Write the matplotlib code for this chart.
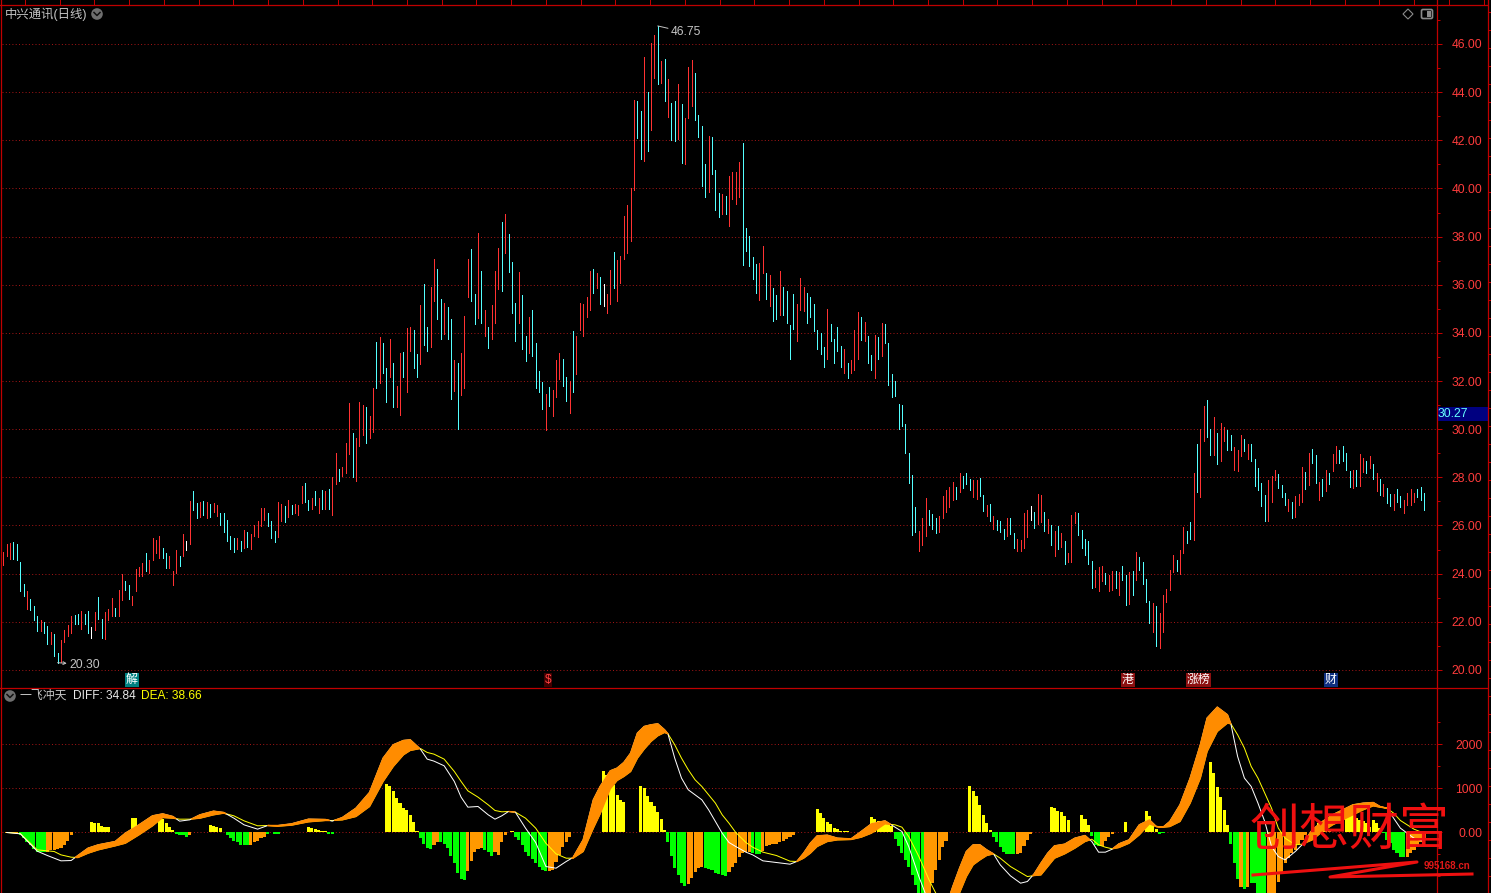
import numpy as np
import matplotlib
matplotlib.use('Agg')
import matplotlib.pyplot as plt
from matplotlib.patches import Circle, FancyBboxPatch, Polygon

plt.rcParams['font.family'] = ['Liberation Sans', 'Noto Sans CJK SC', 'DejaVu Sans']

# daily bars: one high, one low, one colour (r up, c down, w flat)
highs = [
    24.89,25.25,25.28,25.33,25.22,24.47,23.58,23.26,22.93,22.67,
    22.26,22.06,22.01,21.81,21.56,21.51,20.72,21.25,21.64,21.85,
    22.22,22.29,22.33,22.43,22.33,22.43,21.78,22.39,23.01,22.10,
    22.39,22.51,22.97,22.56,23.31,24.00,23.68,23.51,23.06,24.21,
    24.26,24.43,24.85,24.56,25.47,25.39,25.56,25.06,24.85,24.72,
    24.10,24.97,24.72,25.64,25.35,27.01,27.43,26.93,26.97,27.01,
    26.97,26.89,26.93,26.85,26.51,26.51,26.22,25.56,25.47,25.47,
    25.35,25.81,25.72,25.64,26.01,26.18,26.72,26.72,26.51,26.18,
    25.76,26.97,26.89,26.81,27.06,26.85,26.89,26.85,27.64,27.76,
    27.06,27.14,27.43,27.14,27.47,27.43,27.51,28.03,29.00,28.35,
    28.43,29.43,31.10,29.83,29.63,31.14,31.01,30.93,30.56,31.72,
    33.64,33.81,33.56,32.56,33.76,32.76,31.81,33.18,33.22,34.22,
    34.26,34.14,33.14,35.14,36.01,34.26,35.89,37.06,36.64,35.39,
    35.26,35.06,34.56,32.89,32.76,33.18,34.72,37.06,37.47,35.60,
    38.14,36.56,34.93,34.26,35.14,36.56,37.51,38.60,38.93,38.10,
    36.93,35.26,36.51,35.56,33.85,34.64,34.93,33.60,32.43,31.97,
    31.47,31.76,31.64,32.89,33.18,32.93,32.18,32.01,34.06,33.85,
    35.26,35.22,35.51,36.56,36.64,36.47,36.31,36.01,35.60,36.60,
    37.35,37.01,37.18,38.85,39.31,40.01,43.68,43.64,43.22,45.47,
    44.01,46.03,46.39,46.75,45.31,45.39,44.56,43.56,43.64,44.35,
    43.51,42.93,45.06,45.35,44.81,43.06,42.60,41.01,42.18,42.14,
    40.76,39.81,39.76,39.68,40.51,40.68,40.68,41.10,41.89,38.35,
    38.01,37.14,36.85,36.89,37.60,36.47,36.39,35.85,35.56,36.56,
    35.89,35.76,34.31,35.60,35.18,36.26,35.89,35.64,35.51,35.22,
    34.10,34.01,33.43,35.01,34.35,33.76,34.26,33.47,33.31,32.76,
    32.89,34.14,34.85,34.68,34.47,33.89,33.10,33.93,33.81,34.43,
    34.35,33.56,32.31,32.01,31.06,31.01,30.22,29.01,28.10,26.76,
    25.76,26.31,27.14,26.64,26.47,26.31,26.39,27.22,27.47,27.60,
    27.81,27.60,28.18,28.06,28.18,27.93,27.89,27.89,27.97,27.26,
    26.85,26.89,26.39,26.22,26.18,25.85,26.31,26.31,25.68,25.43,
    25.39,26.51,26.64,26.81,26.56,27.31,27.26,26.56,26.26,26.01,
    25.76,25.97,25.68,25.35,24.85,26.43,26.56,26.51,25.81,25.43,
    25.35,24.51,24.14,24.26,24.31,24.01,23.93,24.10,24.10,24.06,
    24.31,23.93,24.06,24.10,24.89,24.68,24.47,23.76,22.85,22.76,
    22.64,22.35,23.10,23.35,24.14,24.76,24.56,24.97,25.93,25.76,
    26.14,28.18,29.39,30.00,30.97,31.22,30.01,30.51,29.85,30.26,
    30.10,29.97,29.76,29.26,29.14,29.76,29.60,29.39,29.39,28.76,
    28.39,27.76,27.26,27.89,28.06,28.31,28.14,27.68,27.35,27.10,
    26.97,27.22,27.31,28.43,28.22,29.01,29.18,28.93,27.81,27.93,
    28.31,28.18,28.97,29.31,29.14,29.31,29.01,28.26,28.31,28.31,
    28.97,28.81,28.68,28.89,28.56,28.18,27.93,27.72,27.56,27.31,
    27.31,27.51,27.22,27.06,27.35,27.51,27.35,27.51,27.60,27.35]
lows = [
    24.35,24.72,24.60,24.60,24.56,23.26,23.07,22.51,22.47,22.06,
    21.60,21.60,21.53,21.08,21.08,20.57,20.30,20.32,21.18,21.39,
    21.53,21.92,21.89,21.68,21.92,21.53,21.32,21.64,22.10,21.32,
    21.28,22.06,22.22,22.22,22.22,22.89,23.31,22.93,22.68,23.26,
    23.89,23.89,24.10,24.01,24.56,24.85,24.64,24.64,24.22,24.22,
    23.51,24.01,24.31,24.72,24.97,25.22,26.64,26.31,26.35,26.43,
    26.31,26.35,26.56,26.39,26.01,25.72,25.35,25.01,24.89,25.01,
    24.93,25.06,25.10,25.01,25.56,25.51,25.97,26.22,25.97,25.47,
    25.31,25.51,26.18,26.14,26.35,26.47,26.51,26.43,26.93,26.97,
    26.64,26.68,26.85,26.51,26.68,26.68,26.68,26.45,27.72,27.85,
    28.06,28.18,28.97,28.03,27.85,29.31,29.76,29.44,29.64,29.89,
    31.72,31.93,32.35,31.14,32.18,30.93,30.93,30.60,32.18,31.56,
    33.26,32.56,32.18,32.72,33.51,33.26,33.43,35.31,34.56,33.76,
    33.97,33.76,31.26,31.60,30.00,31.43,31.72,35.47,35.31,34.35,
    34.60,34.39,33.85,33.39,33.76,34.43,35.81,35.76,37.31,36.51,
    34.81,33.68,34.39,33.35,32.85,33.18,33.06,31.72,31.56,30.85,
    29.97,30.97,30.56,31.35,32.10,31.81,31.18,30.68,31.56,32.31,
    34.10,33.89,34.64,34.93,35.64,35.85,35.22,35.10,34.81,35.22,
    35.85,35.31,36.06,37.06,37.31,37.81,39.93,42.10,41.22,41.14,
    41.56,42.43,44.60,44.35,44.39,43.64,42.97,42.01,41.97,42.06,
    41.06,41.01,42.93,43.43,42.85,42.14,40.10,39.64,39.85,40.60,
    39.10,38.81,38.93,38.93,38.43,39.56,39.35,39.64,36.81,37.39,
    36.76,36.22,35.64,35.35,36.47,35.39,35.10,34.51,34.56,34.76,
    34.76,34.39,32.93,34.18,33.68,34.97,34.89,34.43,34.68,34.06,
    33.31,33.14,32.60,32.93,33.68,32.76,33.26,32.60,32.35,32.14,
    32.35,32.47,32.93,33.72,33.68,32.76,32.47,32.14,32.93,33.06,
    33.60,31.85,31.35,31.39,30.01,30.14,29.01,27.76,25.60,25.72,
    24.93,25.18,25.56,26.01,25.85,25.68,25.72,26.31,26.56,26.76,
    27.06,27.10,27.39,27.56,27.72,27.47,27.18,27.10,27.24,26.60,
    26.39,26.18,25.85,25.81,25.72,25.43,25.56,25.64,25.06,24.93,
    24.93,25.06,25.51,26.22,25.89,26.06,26.14,25.76,25.68,25.18,
    24.72,25.01,25.10,24.39,24.47,24.47,26.10,25.60,25.06,24.76,
    24.39,23.39,23.43,23.26,23.68,23.56,23.26,23.31,23.39,23.10,
    23.72,22.68,22.72,23.10,23.72,24.14,23.56,22.81,21.93,21.56,
    21.01,20.89,21.56,22.81,23.31,24.06,24.10,23.99,24.85,25.26,
    25.43,25.39,27.39,27.18,29.51,29.68,28.93,28.93,28.56,28.68,
    29.51,29.14,29.14,28.31,28.26,28.89,29.10,28.76,28.68,27.64,
    27.47,26.81,26.18,26.18,26.97,27.89,27.56,27.18,26.85,26.60,
    26.31,26.35,26.85,26.97,27.51,27.68,28.60,27.76,27.06,27.22,
    27.43,27.72,28.26,28.60,28.60,28.68,28.31,27.60,27.56,27.64,
    27.64,28.22,28.18,28.39,27.93,27.43,27.26,27.22,26.93,26.81,
    26.64,26.97,26.76,26.51,26.85,26.85,26.97,27.18,27.06,26.64]
bar_kinds = (
    "rrrccccrcc" "crccrccrrr" "rccrccwrcc" "rrrcrrccrr" "rrcrrrrccr" "rrcrwrccrc"
    "rcrrcccccr" "crcrrrrrcc" "crrcrcrrrc" "crcrcrcrrc" "rrrcrrrcrr" "crccrcrrcr"
    "rccrccrrcc" "rccrcrrrcc" "rcrcrrrcrc" "ccrccrcccc" "rcrrrccrcr" "rrrrcrcwrr"
    "crrrrrrccr" "crrcrcrccr" "crrrccccrc" "ccrcrrrrcc" "cccrrcrccr" "ccccrrrccc"
    "cccrccccrc" "rrrcrccrcr" "cccccccccc" "rrrcccrrrr" "rcrcccrrcc" "rcrcccrccr"
    "rrrwcrrcrc" "rcrcrrrccc" "ccrrrcrrcr" "ccrcrccccr" "crrrrrcrrc" "crcrrccrcr"
    "rccrrrcrcc" "cccrrrcccr" "crrrcrccrc" "rcrrccccrc" "rrcrcrcrcc" "rccrrrrccc")

# indicator lines, read at these bars
macd_bars = [1,5,10,13,15,17,20,22,25,28,33,36,40,44,47,50,52,55,58,62,65,68,71,75,78,81,85,90,95,97,
    100,104,108,112,115,118,120,123,125,127,130,133,135,137,140,143,145,147,149,151,154,157,160,163,166,168,
    171,174,176,179,181,183,185,187,189,191,193,195,196,198,200,202,204,206,208,210,212,214,216,219,221,224,
    228,232,234,236,238,240,243,246,250,253,256,260,263,265,267,270,273,275,278,280,282,284,286,288,290,292,
    294,297,300,302,304,306,308,310,313,316,319,321,323,325,327,329,332,335,338,340,342,344,347,350,353,355,
    358,361,362,364,366,368,370,372,374,376,378,381,383,386,389,392,395,398,401,404,406,408,410,412,414,416,419]
diff_vals = [0,-30,-424,-523,-584,-644,-637,-523,-356,-280,-205,-15,174,379,424,364,258,288,402,485,455,326,174,76,159,159,197,303,296,258,
    341,553,910,1690,1994,2092,2107,1895,1668,1622,1516,1160,803,576,591,402,303,379,478,462,99,-227,-773,-811,-659,-569,
    -167,743,1046,1402,1463,1592,1804,2259,2410,2448,2471,2335,2244,1690,1236,970,857,743,515,250,-15,-227,-318,-447,-508,-644,
    -682,-720,-659,-470,-243,-76,-61,-129,-144,23,197,265,121,23,-318,-1001,-1607,-1759,-1683,-1228,-811,-432,-280,-280,-394,-485,
    -735,-985,-1152,-1114,-940,-697,-470,-303,-265,-129,-68,-205,-447,-447,-379,-258,-167,174,288,136,121,250,629,1236,1994,2600,
    2850,2676,2471,1728,1236,1046,667,250,-318,-546,-622,-432,-280,61,250,402,515,629,667,682,591,553,326,99,-15,-129,-205]
dea_vals = [0,-23,-394,-417,-432,-508,-561,-569,-470,-394,-303,-243,-53,152,341,326,303,303,326,402,440,379,265,152,159,144,167,243,273,273,
    288,364,591,1160,1501,1766,1865,1910,1819,1781,1668,1387,1160,947,803,629,500,470,478,462,326,99,-243,-485,-584,-584,
    -432,99,424,993,1182,1273,1387,1690,1895,2069,2198,2274,2244,1994,1690,1425,1198,1046,857,667,402,212,0,-227,-334,-447,
    -523,-652,-659,-584,-470,-318,-205,-167,-159,-106,-15,197,174,121,-91,-546,-1076,-1380,-1607,-1531,-1372,-1001,-735,-622,-523,-485,
    -584,-773,-910,-1001,-978,-963,-773,-584,-485,-356,-205,-152,-280,-334,-371,-341,-243,-53,197,136,121,136,250,667,1236,1842,
    2297,2486,2471,2221,1918,1501,1236,894,553,99,-129,-280,-265,-167,23,174,288,402,515,606,576,553,440,273,174,76,-15]

# histogram runs: first bar, then the value of each bar from there on
hist_runs = [
    (1, [-15,-15,-15,-15]),
    (5, [-61,-129,-220,-280,-371,-432,-432,-440,-440,-409,-409,-371,-341,-280,-190,-68]),
    (26, [243,212,205,152,136,136]),
    (38, [334,334]),
    (46, [409,303,212,121,61]),
    (51, [-30,-61,-68,-91,-61]),
    (61, [174,159,129,106]),
    (66, [-53,-129,-182,-227,-280,-280,-280,-280,-220,-182,-129,-91,-30]),
    (80, [-30,-30]),
    (90, [129,106,83,61,30,23,-23,-23]),
    (113, [1107,1061,932,781,667,568,500,394,235,38]),
    (123, [-121,-258,-356,-371,-280,-220,-227,-258,-356,-523,-697,-925,-1054,-1069,-872,-659,-447,-379,-356,-394,-447,-523,-447,-508,-205,-61]),
    (150, [38]),
    (151, [-91,-167,-280,-440,-523,-599,-697,-773,-849,-872,-872,-857,-667,-508,-334,-205,-99]),
    (177, [1387,1296,1198,1084,856,743,697]),
    (188, [1061,1001,834,682,599,470,311,61]),
    (196, [-227,-523,-796,-970,-1137,-1205,-1167,-1023,-887,-796,-773,-796,-826,-849,-910,-940,-963,-978,-887,-773,-682,-546,-470,-447,-432,-470,-485,-485,-417,-318,-280,-258,-258,-227,-182,-152,-91,-53]),
    (240, [538,447,334,243,190,99,76,30,23,23,15,15]),
    (256, [356,311,258,243,212,212,152]),
    (263, [-144,-296,-455,-622,-773,-963,-1182,-1607,-1607,-1607,-1455,-1137,-849,-622,-334,-182]),
    (285, [1061,947,819,629,402,212,61]),
    (292, [-91,-205,-334,-432,-485,-485,-485,-485,-470,-303,-167,-38]),
    (309, [584,553,492,455,379,288]),
    (318, [402,318,174]),
    (321, [-76,-280,-318,-303,-182,-91,-30]),
    (331, [243]),
    (337, [493,364,227,76,-30,-15]),
    (356, [1592,1349,1038,796,515,174]),
    (362, [-258,-697,-1061,-1228,-1281,-1228,-1152,-1152,-1607,-1607,-1607,-1607,-1607,-1607,-1114,-887,-697,-584,-470,-394,-258,-167,-68]),
    (388, [212,174,136,23]),
    (396, [515,515,424,326,288,250,212,136,288,212,99]),
    (407, [-8,-167,-243,-394,-470,-546,-568,-568,-470,-394,-280,-205,-120]),
]
green_runs = [(5,12),(51,54),(66,72),(78,81),(96,97),(123,126),(129,136),(142,144),(151,160),(196,201),
    (207,213),(221,223),(263,271),(292,298),(321,323),(341,342),(362,364),(366,366),(368,372),(407,413)]

price_ticks = [20,22,24,26,28,30,32,34,36,38,40,42,44,46]
macd_ticks = [0,1000,2000]
macd_tick_labels = ['0.00','1000','2000']

RED_LINE = '#c00000'
GRID = '#a01515'
TICK_TXT = '#ff3c3c'
GRAY = '#c4c4c4'
W, H = 1491, 893

fig = plt.figure(figsize=(W/100, H/100), dpi=100, facecolor='black')


def px_axes(left, top, right, bottom):
    a = fig.add_axes([left/W, 1-bottom/H, (right-left)/W, (bottom-top)/H], facecolor='black')
    for s in a.spines.values():
        s.set_visible(False)
    a.set_xlim((left-3.3)/3.391, (right-3.3)/3.391)
    a.set_xticks([])
    a.yaxis.tick_right()
    return a


def style_y(a, ticks, labels, minor):
    a.set_yticks(ticks)
    a.set_yticklabels(labels)
    a.set_yticks(minor, minor=True)
    a.tick_params(axis='y', which='major', length=3.6, width=0.72, color=RED_LINE,
                  labelcolor=TICK_TXT, labelsize=8.7, pad=29.5)
    a.tick_params(axis='y', which='minor', length=2, width=0.72, color=RED_LINE)
    for lab in a.get_yticklabels():
        lab.set_ha('right')
    for t in ticks:
        a.axhline(t, color=GRID, lw=0.72, ls=(0, (1, 2.3)), zorder=0)


# price panel
ax = px_axes(2, 5, 1436.5, 687)
ax.set_ylim(19.29, 47.62)
style_y(ax, price_ticks, ['%.2f' % t for t in price_ticks], [t+1 for t in price_ticks])

kind_colors = {'r': '#ff3232', 'c': '#54ffff', 'w': '#ffffff'}
bars = np.arange(len(highs))
ax.vlines(bars, lows, highs, colors=[kind_colors[k] for k in bar_kinds], lw=0.7,
          antialiased=False, zorder=3)

ax.annotate('46.75', xy=(193, 46.75), xytext=(13, -6.5), textcoords='offset pixels',
            color=GRAY, fontsize=8.7, va='center',
            arrowprops=dict(arrowstyle='-', color=GRAY, lw=0.7, shrinkA=0, shrinkB=0))
ax.annotate('20.30', xy=(16, 20.30), xytext=(12, -2), textcoords='offset pixels',
            color=GRAY, fontsize=8.7, va='center',
            arrowprops=dict(arrowstyle='<-', color=GRAY, lw=0.7, shrinkA=0, shrinkB=0, mutation_scale=5))

# indicator panel
ax2 = px_axes(2, 688, 1436.5, 893)
ax2.set_ylim(-1375, 3284)
style_y(ax2, macd_ticks, macd_tick_labels, [-1000,-500,500,1500,2500])

hist = np.zeros(len(highs))
for start, vals in hist_runs:
    hist[start:start+len(vals)] = vals
green = np.zeros(len(highs), dtype=bool)
for a, b in green_runs:
    green[a:b+1] = True
hist_colors = np.where(hist > 0, '#ffff00', np.where(green, '#00ff00', '#ff9900'))
ax2.bar(bars, hist, width=0.92, color=hist_colors, antialiased=False, zorder=2)

diff_arr = np.array(diff_vals, dtype=float)
dea_arr = np.array(dea_vals, dtype=float)
ax2.plot(macd_bars, dea_vals, color='#ffff00', lw=0.72, zorder=3)
ax2.plot(macd_bars, diff_vals, color='#ffffff', lw=0.72, zorder=3)
ax2.fill_between(macd_bars, dea_arr, diff_arr, where=diff_arr >= dea_arr, interpolate=True,
                 color='#ff8c00', edgecolor='#ff8c00', lw=1.0, zorder=4)

# frame, header texts and icons, placed in pixels
ov = fig.add_axes([0, 0, 1, 1], facecolor='none', zorder=10)
ov.set_xlim(0, W)
ov.set_ylim(H, 0)
ov.axis('off')
for x in (1, 1436.5, 1487.5):
    ov.plot([x, x], [0, H], color=RED_LINE, lw=0.9)
ov.plot([0, 1487], [4.5, 4.5], color=RED_LINE, lw=0.9)
ov.plot([0, 1487], [687.5, 687.5], color=RED_LINE, lw=0.9)
for x in np.arange(25, 1487, 34.73):
    ov.plot([x, x], [0, 4], color=RED_LINE, lw=0.72)
for y in np.arange(12, H, 18):
    ov.plot([1487.5, 1491], [y, y], color=RED_LINE, lw=0.72)

ov.text(5, 14, '中兴通讯(日线)', color=GRAY, fontsize=8.9, va='center')
ov.text(20, 696, '一飞冲天', color=GRAY, fontsize=8.6, va='center')
ov.text(73, 696, 'DIFF: 34.84', color='#e8e8e8', fontsize=8.6, va='center')
ov.text(141, 696, 'DEA: 38.66', color='#ffff00', fontsize=8.6, va='center')

for cx, cy in ((97, 14), (10, 696)):
    ov.add_patch(Circle((cx, cy), 5.8, color='#6e6e6e', lw=0))
    ov.plot([cx-3, cx, cx+3], [cy-1.5, cy+1.5, cy-1.5], color='#111111', lw=1.1)
ov.add_patch(Polygon([(1408, 9), (1413, 14), (1408, 19), (1403, 14)], closed=True, fill=False,
                     edgecolor='#8a8a8a', lw=0.8))
ov.add_patch(FancyBboxPatch((1422, 10), 10, 8, boxstyle='round,pad=0.5,rounding_size=1.5',
                            fill=False, edgecolor='#8a8a8a', lw=1.2))
ov.add_patch(FancyBboxPatch((1427, 11), 4, 6, boxstyle='square,pad=0', color='#8a8a8a', lw=0))

# last price box on the axis
ov.add_patch(FancyBboxPatch((1437, 407), 50.5, 14, boxstyle='square,pad=0', color='#000080', lw=0))
ov.text(1438, 414, '30.27', color='#66ffff', fontsize=8.7, va='center')

# event markers under the price panel
markers = [('解', 132, '#008080', '#ffffff'), ('$', 548, '#400000', '#ff4040'),
           ('港', 1128, '#8c1010', '#ffffff'), ('涨榜', 1198.5, '#8c1010', '#ffffff'),
           ('财', 1331, '#103080', '#ffffff')]
for txt, x, bg, fg in markers:
    ov.text(x, 680, txt, color=fg, fontsize=8.6, ha='center', va='center',
            bbox=dict(facecolor=bg, edgecolor='none', pad=0.8))

# watermark
ov.text(1350, 831, '创想财富', color='#f01010', fontsize=36, style='italic',
        ha='center', va='center', family=['Noto Sans CJK SC'])
ov.text(1447, 866, '995168.cn', color='#e01818', fontsize=7, fontweight='bold', ha='center', va='center',
        family=['Liberation Sans'])
ov.plot([1253, 1417, 1330, 1472], [875, 862, 877, 874], color='#ee1010', lw=2.2)

fig.savefig('out.png', dpi=100, facecolor='black')
